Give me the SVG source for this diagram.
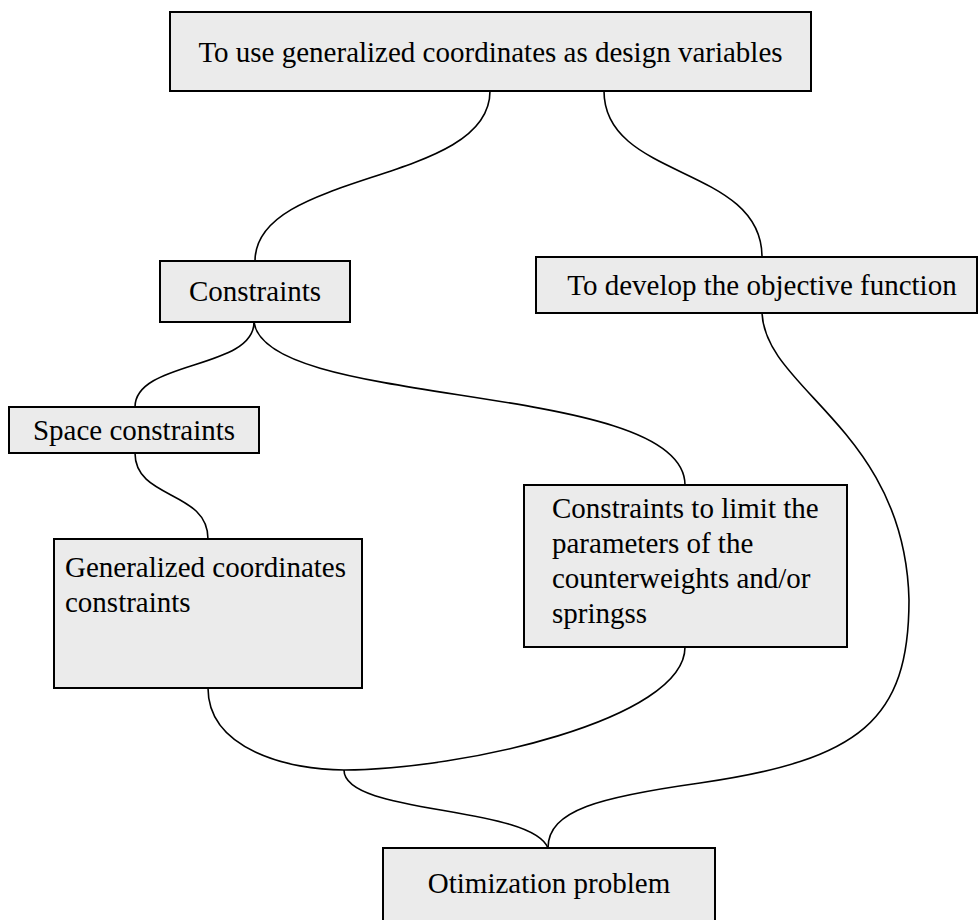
<svg xmlns="http://www.w3.org/2000/svg" width="979" height="920" viewBox="0 0 979 920">
<style>
.box{fill:#ebebeb;stroke:#000;stroke-width:2}
.t{font-family:"Liberation Serif","Times New Roman",serif;font-size:29px;fill:#000}
.c{fill:none;stroke:#000;stroke-width:1.6}
</style>
<rect width="979" height="920" fill="#fff"/>
<g id="connectors">
<path class="c" d="M490,91 C490,185 255,170 255,261"/>
<path class="c" d="M604,91 C604,180 762,165 762,257"/>
<path class="c" d="M254,322 C254,370 135,360 135,407"/>
<path class="c" d="M254,322 C265,410 685,380 685,485"/>
<path class="c" d="M135,453 C135,500 208,490 208,539"/>
<path class="c" d="M208,688 C208,750 290,770 344,770"/>
<path class="c" d="M685,647 C685,720 460,770 344,770"/>
<path class="c" d="M344,770 C344,815 530,805 548,848"/>
<path class="c" d="M762,313 C765,390 905,430 909,600 C909,720 860,760 700,783 C600,797 548,810 548,848"/>
</g>
<g id="n-top">
<rect class="box" x="170" y="12" width="641" height="79"/>
<text class="t" x="490.5" y="62" text-anchor="middle">To use generalized coordinates as design variables</text>
</g>
<g id="n-constraints">
<rect class="box" x="160" y="261" width="190" height="61"/>
<text class="t" x="255" y="301" text-anchor="middle">Constraints</text>
</g>
<g id="n-objective">
<rect class="box" x="536" y="257" width="441" height="56"/>
<text class="t" x="762" y="295" text-anchor="middle">To develop the objective function</text>
</g>
<g id="n-space">
<rect class="box" x="9" y="407" width="250" height="46"/>
<text class="t" x="134" y="440" text-anchor="middle">Space constraints</text>
</g>
<g id="n-generalized">
<rect class="box" x="54" y="539" width="308" height="149"/>
<text class="t" x="65" y="577">Generalized coordinates</text>
<text class="t" x="65" y="612">constraints</text>
</g>
<g id="n-limit">
<rect class="box" x="524" y="485" width="323" height="162"/>
<text class="t" x="552" y="518">Constraints to limit the</text>
<text class="t" x="552" y="553">parameters of the</text>
<text class="t" x="552" y="588">counterweights and/or</text>
<text class="t" x="552" y="623">springss</text>
</g>
<g id="n-opt">
<rect class="box" x="383" y="848" width="332" height="80"/>
<text class="t" x="549" y="893" text-anchor="middle">Otimization problem</text>
</g>
</svg>
